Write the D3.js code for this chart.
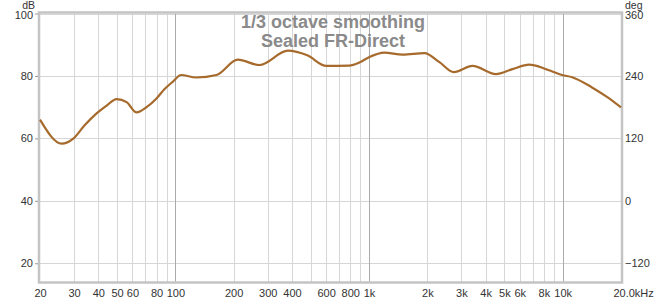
<!DOCTYPE html>
<html>
<head>
<meta charset="utf-8">
<script src="https://cdn.jsdelivr.net/npm/d3@7"></script>
<style>
  body { margin: 0; background: #fff; }
  text { font-family: "Liberation Sans", Arial, sans-serif; }
</style>
</head>
<body>
<div id="chart"></div>
<script>
// frequency response
const freqs = [20, 25.9, 29.7, 34, 39.2, 44, 49.7, 56, 63.1, 71, 79.9, 88, 97.2, 107, 128, 163, 210, 272, 381, 480, 602, 790, 892, 1000, 1198, 1490, 1935, 2300, 2740, 3420, 4520, 5500, 6720, 7540, 8500, 9940, 11200, 14100, 17000, 20000];
const spl = [66.0, 58.3, 59.9, 64.2, 68.0, 70.4, 72.6, 71.6, 68.3, 70.0, 72.8, 75.8, 78.2, 80.3, 79.5, 80.3, 85.2, 83.5, 88.1, 86.6, 83.2, 83.3, 84.3, 86.0, 87.5, 86.8, 87.3, 84.5, 81.2, 83.2, 80.6, 82.2, 83.6, 83.0, 81.8, 80.3, 79.6, 76.4, 73.2, 69.9];

const xTicks = [20, 30, 40, 50, 60, 80, 100, 200, 300, 400, 600, 800, 1000, 2000, 3000, 4000, 5000, 6000, 8000, 10000, 20000];
const xTickLabels = ["20", "30", "40", "50", "60", "80", "100", "200", "300", "400", "600", "800", "1k", "2k", "3k", "4k", "5k", "6k", "8k", "10k", "20.0kHz"];
const gridFreqs = [30, 40, 50, 60, 70, 80, 90, 200, 300, 400, 500, 600, 700, 800, 900, 2000, 3000, 4000, 5000, 6000, 7000, 8000, 9000];
const decades = [100, 1000, 10000];
const dbTicks = [20, 40, 60, 80, 100];
const degTicks = [-120, 0, 120, 240, 360];
const titleLines = ["1/3 octave smoothing", "Sealed FR-Direct"];

const W = 669, H = 300;
const x = d3.scaleLog().domain([20, 20000]).range([40, 621]);
const y = d3.scaleLinear().domain([14, 100]).range([282, 13.5]);
const yDeg = d3.scaleLinear().domain([-156, 360]).range([282, 13.5]);

const svg = d3.select("#chart").append("svg")
    .attr("width", W)
    .attr("height", H);

// grid
svg.append("g").selectAll("line")
  .data(gridFreqs)
  .join("line")
    .attr("x1", d => Math.round(x(d)) + 0.5)
    .attr("x2", d => Math.round(x(d)) + 0.5)
    .attr("y1", 13.5)
    .attr("y2", 282)
    .attr("stroke", "#d6d6d6");

svg.append("g").selectAll("line")
  .data(dbTicks)
  .join("line")
    .attr("x1", 40)
    .attr("x2", 621)
    .attr("y1", d => Math.round(y(d)) + 0.5)
    .attr("y2", d => Math.round(y(d)) + 0.5)
    .attr("stroke", "#d6d6d6");

svg.append("g").selectAll("line")
  .data(decades)
  .join("line")
    .attr("x1", d => Math.round(x(d)) + 0.5)
    .attr("x2", d => Math.round(x(d)) + 0.5)
    .attr("y1", 13.5)
    .attr("y2", 282)
    .attr("stroke", "#ababab");

// plot frame
svg.append("rect")
    .attr("x", 39)
    .attr("y", 12.5)
    .attr("width", 583)
    .attr("height", 270)
    .attr("fill", "none")
    .attr("stroke", "#c4c4c4")
    .attr("stroke-width", 2.5);

// left dB axis
const yAxis = d3.axisLeft(y).tickValues(dbTicks).tickSize(3).tickPadding(2);
svg.append("g")
    .attr("transform", "translate(38,0)")
    .call(yAxis)
    .call(g => g.select(".domain").remove())
    .call(g => g.selectAll("line").attr("stroke", "#999"))
    .call(g => g.selectAll("text").attr("font-size", 11).attr("fill", "#333")
      .attr("font-family", "'Liberation Sans', Arial, sans-serif"))
    .call(g => g.selectAll(".tick").filter(d => d === 100).select("text").attr("dy", "0.45em"));

// right deg axis
const yAxisR = d3.axisRight(yDeg).tickValues(degTicks).tickSize(0).tickPadding(3);
svg.append("g")
    .attr("transform", "translate(622,0)")
    .call(yAxisR)
    .call(g => g.select(".domain").remove())
    .call(g => g.selectAll("text").attr("font-size", 11).attr("fill", "#333")
      .attr("font-family", "'Liberation Sans', Arial, sans-serif"))
    .call(g => g.selectAll(".tick").filter(d => d === 360).select("text").attr("dy", "0.45em"));

// bottom frequency axis
const xAxis = d3.axisBottom(x).tickValues(xTicks).tickSize(0).tickPadding(6)
    .tickFormat((d, i) => xTickLabels[i]);
svg.append("g")
    .attr("transform", "translate(0,283)")
    .call(xAxis)
    .call(g => g.select(".domain").remove())
    .call(g => g.selectAll("text").attr("font-size", 11).attr("fill", "#333")
      .attr("font-family", "'Liberation Sans', Arial, sans-serif"))
    .call(g => g.selectAll(".tick").filter(d => d === 20000).select("text").attr("dx", "1.1em"));

// unit labels
svg.append("text")
    .attr("x", 35)
    .attr("y", 8.5)
    .attr("text-anchor", "end")
    .attr("font-size", 10.5)
    .attr("fill", "#333")
    .text("dB");
svg.append("text")
    .attr("x", 625)
    .attr("y", 8.5)
    .attr("font-size", 10.5)
    .attr("fill", "#333")
    .text("deg");

// title
svg.append("g").selectAll("text")
  .data(titleLines)
  .join("text")
    .attr("x", 333)
    .attr("y", (d, i) => 28 + i * 19)
    .attr("text-anchor", "middle")
    .attr("font-size", 18)
    .attr("font-weight", "bold")
    .attr("fill", "#8a8a8a")
    .text(d => d);

// response curve
const line = d3.line()
    .x(d => x(d[0]))
    .y(d => y(d[1]))
    .curve(d3.curveMonotoneX);

svg.append("path")
    .datum(d3.zip(freqs, spl))
    .attr("d", line)
    .attr("fill", "none")
    .attr("stroke", "#a66a2c")
    .attr("stroke-width", 2.2)
    .attr("stroke-linejoin", "round");
</script>
</body>
</html>
